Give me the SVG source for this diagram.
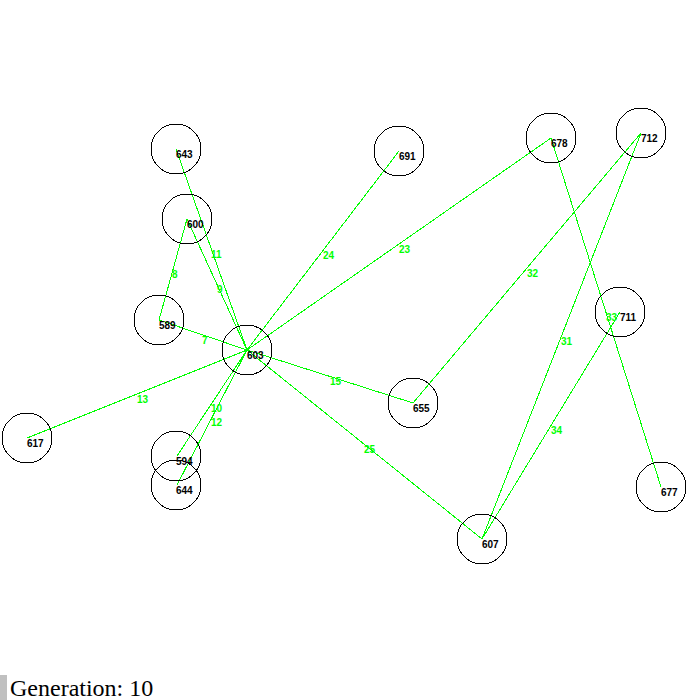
<svg xmlns="http://www.w3.org/2000/svg" width="688" height="700" viewBox="0 0 688 700">
<style>
.edge{stroke:#00ff00;stroke-width:1;fill:none;shape-rendering:crispEdges}
.elabel{fill:#00ff00;font-family:"Liberation Sans",Arial,sans-serif;font-size:10px;font-weight:bold}
.node circle{fill:none;stroke:#000;stroke-width:1;shape-rendering:crispEdges}
.node text{fill:#000;font-family:"Liberation Sans",Arial,sans-serif;font-size:10px;font-weight:bold}
.footer{font-family:"Liberation Serif","Times New Roman",serif;font-size:24px;fill:#000}
</style>
<rect width="688" height="700" fill="#fff"/>
<g id="connectors">
<line class="edge" x1="176" y1="149" x2="247" y2="350"/>
<line class="edge" x1="187" y1="219" x2="247" y2="350"/>
<line class="edge" x1="187" y1="219" x2="159" y2="320"/>
<line class="edge" x1="159" y1="320" x2="247" y2="350"/>
<line class="edge" x1="247" y1="350" x2="27" y2="438"/>
<line class="edge" x1="247" y1="350" x2="177" y2="456"/>
<line class="edge" x1="247" y1="350" x2="177" y2="485"/>
<line class="edge" x1="247" y1="350" x2="399" y2="151"/>
<line class="edge" x1="247" y1="350" x2="551" y2="138"/>
<line class="edge" x1="247" y1="350" x2="413" y2="403"/>
<line class="edge" x1="247" y1="350" x2="482" y2="539"/>
<line class="edge" x1="413" y1="403" x2="641" y2="133"/>
<line class="edge" x1="551" y1="138" x2="661" y2="487"/>
<line class="edge" x1="641" y1="133" x2="482" y2="539"/>
<line class="edge" x1="620" y1="312" x2="482" y2="539"/>
<text class="elabel" x="211" y="258">11</text>
<text class="elabel" x="217" y="293">9</text>
<text class="elabel" x="172" y="278">8</text>
<text class="elabel" x="202" y="344">7</text>
<text class="elabel" x="137" y="403">13</text>
<text class="elabel" x="211" y="412">10</text>
<text class="elabel" x="211" y="426">12</text>
<text class="elabel" x="323" y="259">24</text>
<text class="elabel" x="399" y="253">23</text>
<text class="elabel" x="330" y="385">15</text>
<text class="elabel" x="364" y="453">25</text>
<text class="elabel" x="527" y="277">32</text>
<text class="elabel" x="606" y="321">33</text>
<text class="elabel" x="561" y="345">31</text>
<text class="elabel" x="551" y="434">34</text>
</g>
<g id="n643" class="node"><circle cx="176" cy="149" r="25"/><text x="176" y="158">643</text></g>
<g id="n600" class="node"><circle cx="187" cy="219" r="25"/><text x="187" y="228">600</text></g>
<g id="n589" class="node"><circle cx="159" cy="320" r="25"/><text x="159" y="329">589</text></g>
<g id="n603" class="node"><circle cx="247" cy="350" r="25"/><text x="247" y="359">603</text></g>
<g id="n617" class="node"><circle cx="27" cy="438" r="25"/><text x="27" y="447">617</text></g>
<g id="n594" class="node"><circle cx="176" cy="456" r="25"/><text x="176" y="465">594</text></g>
<g id="n644" class="node"><circle cx="176" cy="485" r="25"/><text x="176" y="494">644</text></g>
<g id="n691" class="node"><circle cx="399" cy="151" r="25"/><text x="399" y="160">691</text></g>
<g id="n678" class="node"><circle cx="551" cy="138" r="25"/><text x="551" y="147">678</text></g>
<g id="n712" class="node"><circle cx="641" cy="133" r="25"/><text x="641" y="142">712</text></g>
<g id="n655" class="node"><circle cx="413" cy="403" r="25"/><text x="413" y="412">655</text></g>
<g id="n711" class="node"><circle cx="620" cy="312" r="25"/><text x="620" y="321">711</text></g>
<g id="n607" class="node"><circle cx="482" cy="539" r="25"/><text x="482" y="548">607</text></g>
<g id="n677" class="node"><circle cx="661" cy="487" r="25"/><text x="661" y="496">677</text></g>
<rect x="0" y="675" width="7" height="25" fill="#c0c0c0"/>
<text class="footer" x="10" y="696">Generation: 10</text>
</svg>
